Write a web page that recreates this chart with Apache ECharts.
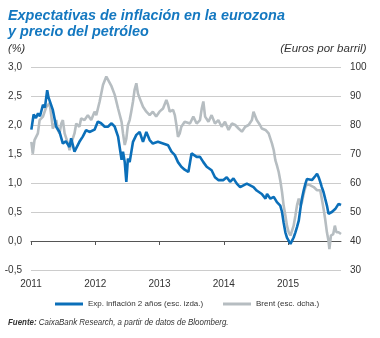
<!DOCTYPE html>
<html><head><meta charset="utf-8">
<script src="https://cdn.jsdelivr.net/npm/echarts@6/dist/echarts.min.js"></script>
<style>html,body{margin:0;padding:0;background:#fff}#c{width:380px;height:338px}</style>
</head><body><div id="c"></div>
<script>
const inflDates = ['2011-01-03','2011-01-16','2011-01-29','2011-02-10','2011-02-21','2011-03-10','2011-03-21','2011-04-03','2011-04-10','2011-04-18','2011-05-05','2011-05-24','2011-06-12','2011-07-01','2011-07-18','2011-08-08','2011-08-17','2011-09-05','2011-09-15','2011-10-03','2011-10-22','2011-11-10','2011-11-29','2011-12-28',
'2012-01-16','2012-02-03','2012-02-24','2012-03-13','2012-04-03','2012-04-21','2012-05-10','2012-05-20','2012-05-30','2012-06-07','2012-06-17','2012-06-26','2012-07-05','2012-07-15','2012-08-03','2012-08-22','2012-09-10','2012-09-29','2012-10-18','2012-11-06','2012-11-24','2012-12-23',
'2013-01-21','2013-02-19','2013-03-10','2013-03-29','2013-04-16','2013-05-05','2013-05-24','2013-06-14','2013-06-21','2013-07-02','2013-07-12','2013-07-31','2013-08-19','2013-09-07','2013-09-26','2013-10-24','2013-11-12','2013-12-01','2013-12-30',
'2014-01-18','2014-02-06','2014-02-25','2014-03-16','2014-04-04','2014-04-23','2014-05-12','2014-05-31','2014-06-19','2014-07-07','2014-08-05','2014-08-26','2014-09-04','2014-09-23','2014-10-12','2014-10-30','2014-11-18','2014-11-28','2014-12-07','2014-12-17','2014-12-26',
'2015-01-05','2015-01-15','2015-01-24','2015-02-02','2015-02-12','2015-02-21','2015-03-03','2015-03-12','2015-03-21','2015-03-31','2015-04-10','2015-04-19','2015-04-28','2015-05-17','2015-06-05','2015-06-15','2015-06-24','2015-07-03','2015-07-12','2015-07-22','2015-07-31','2015-08-10','2015-08-19','2015-08-29','2015-09-07','2015-09-26','2015-10-15','2015-10-29'];
const inflValues = [1.92,2.18,2.12,2.20,2.15,2.35,2.30,2.60,2.48,2.45,2.26,1.97,1.88,1.68,1.72,1.62,1.77,1.54,1.51,1.71,1.80,1.91,1.88,1.92,
2.06,2.03,1.97,1.97,2.03,1.97,1.80,1.60,1.40,1.54,1.36,1.02,1.42,1.36,1.71,1.83,1.88,1.71,1.88,1.74,1.68,1.71,
1.68,1.65,1.54,1.48,1.36,1.28,1.23,1.19,1.20,1.51,1.54,1.45,1.45,1.36,1.28,1.22,1.10,1.05,1.05,
1.10,1.02,1.08,0.99,0.93,0.96,0.99,0.96,0.93,0.87,0.81,0.73,0.81,0.73,0.76,0.67,0.61,0.50,0.32,0.15,0.06,
0.09,-0.05,-0.02,0.06,0.15,0.24,0.35,0.55,0.73,0.87,0.99,1.07,1.10,1.05,1.12,1.16,1.10,1.02,0.93,0.84,0.73,0.61,0.47,0.45,0.50,0.55,0.64,0.62];

const brentDates = ['2011-01-03','2011-01-11','2011-01-21','2011-02-09','2011-02-19','2011-03-10','2011-03-29','2011-04-17','2011-04-27','2011-05-05','2011-05-15','2011-05-24','2011-06-03','2011-06-12','2011-06-22','2011-07-01','2011-07-11','2011-07-30','2011-08-08','2011-08-17','2011-09-05','2011-09-15','2011-10-03','2011-10-13','2011-11-01','2011-11-20','2011-12-09','2011-12-28',
'2012-01-07','2012-01-26','2012-02-14','2012-03-04','2012-03-15','2012-04-03','2012-04-21','2012-05-10','2012-05-30','2012-06-07','2012-06-17','2012-06-26','2012-07-05','2012-07-15','2012-07-24','2012-08-03','2012-08-12','2012-08-22','2012-08-31','2012-09-10','2012-09-29','2012-10-18','2012-11-06','2012-11-24','2012-12-13',
'2013-01-01','2013-01-21','2013-02-09','2013-02-19','2013-02-28','2013-03-19','2013-03-29','2013-04-07','2013-04-16','2013-04-26','2013-05-05','2013-05-24','2013-06-04','2013-06-23','2013-07-12','2013-07-31','2013-08-19','2013-08-29','2013-09-07','2013-09-17','2013-10-06','2013-10-24','2013-11-12','2013-12-01','2013-12-20',
'2014-01-08','2014-01-28','2014-02-16','2014-03-07','2014-03-26','2014-04-14','2014-05-03','2014-05-22','2014-06-10','2014-06-19','2014-07-07','2014-07-26','2014-08-05','2014-08-26','2014-09-13','2014-10-02','2014-10-12','2014-10-21','2014-10-30','2014-11-09','2014-11-18','2014-11-28','2014-12-07','2014-12-17','2014-12-26',
'2015-01-05','2015-01-15','2015-01-24','2015-02-02','2015-02-12','2015-02-21','2015-03-03','2015-03-12','2015-03-21','2015-03-31','2015-04-10','2015-04-19','2015-05-08','2015-05-27','2015-06-15','2015-07-03','2015-07-12','2015-07-22','2015-07-31','2015-08-10','2015-08-19','2015-08-24','2015-09-02','2015-09-15','2015-09-24','2015-10-03','2015-10-15','2015-10-29'];
const brentValues = [74.2,70.1,74.8,77.1,81.7,82.9,86.3,87.5,82.9,78.8,80.0,81.7,78.3,77.1,80.5,81.7,77.1,73.6,71.3,73.6,77.1,80.5,79.4,82.3,81.7,83.4,81.7,84.6,
83.4,88.1,93.8,96.7,96.8,93.3,90.4,85.7,81.1,77.1,73.1,75.3,80.0,81.7,84.6,88.1,92.1,94.4,90.9,89.2,86.3,84.6,83.4,84.6,82.9,
84.6,85.7,88.6,86.9,84.6,85.2,83.4,80.0,75.9,77.1,79.4,81.1,81.7,80.5,82.9,80.5,81.7,85.7,88.1,82.9,81.1,83.4,80.5,81.7,79.4,
81.1,78.3,80.5,80.0,78.8,77.7,79.4,80.0,81.7,84.6,81.7,80.0,78.8,78.3,77.1,73.6,71.3,67.9,66.1,63.8,60.9,56.9,52.3,48.8,45.3,
43.0,41.9,43.6,45.3,48.8,52.3,54.6,52.3,53.4,56.3,58.6,59.7,59.2,58.6,57.5,57.5,54.6,51.1,47.6,43.0,40.1,37.2,41.9,42.4,45.3,43.0,43.0,42.4];

const yearLabels = [2011, 2012, 2013, 2014, 2015];
const xStart = '2011-01-01';
const xEnd = '2015-10-29';

function decYear(s) {
  const p = s.split('-').map(Number);
  const t = Date.UTC(p[0], p[1] - 1, p[2]), a = Date.UTC(p[0], 0, 1), b = Date.UTC(p[0] + 1, 0, 1);
  return p[0] + (t - a) / (b - a);
}

const FONT = '"Liberation Sans", Arial, sans-serif';
const BLUE = '#0b6fb9';
const TITLE = '#1478c0';
const GRAY = '#b6bdc1';
const TXT = '#333333';

const chart = echarts.init(document.getElementById('c'), null, {renderer: 'canvas'});
chart.setOption({
  animation: false,
  backgroundColor: '#fff',
  textStyle: {fontFamily: FONT},
  grid: {left: 31, right: 39, top: 67, bottom: 68},
  xAxis: [{
    type: 'value', min: decYear(xStart), max: decYear(xEnd), position: 'bottom',
    axisLine: {show: false, onZero: false}, axisTick: {show: false}, splitLine: {show: false},
    axisLabel: {customValues: yearLabels, formatter: v => String(Math.round(v)), color: TXT, fontSize: 10, fontFamily: FONT, margin: 9}
  }, {
    type: 'value', min: decYear(xStart), max: decYear(xEnd), position: 'top',
    axisLine: {show: true, onZero: true, onZeroAxisIndex: 0, lineStyle: {color: '#555', width: 1}},
    axisTick: {show: true, inside: true, length: 4, customValues: yearLabels, lineStyle: {color: '#555'}},
    axisLabel: {show: false}, splitLine: {show: false}
  }],
  yAxis: [{
    type: 'value', min: -0.5, max: 3, interval: 0.5, position: 'left',
    axisLine: {show: false}, axisTick: {show: false},
    splitLine: {show: true, lineStyle: {color: '#cccccc', width: 1}},
    axisLabel: {formatter: v => v.toFixed(1).replace('.', ','), color: TXT, fontSize: 10, fontFamily: FONT, margin: 9}
  }, {
    type: 'value', min: 30, max: 100, interval: 10, position: 'right',
    axisLine: {show: false}, axisTick: {show: false}, splitLine: {show: false},
    axisLabel: {color: TXT, fontSize: 10, fontFamily: FONT, margin: 9}
  }],
  legend: [{
    left: 50, top: 295, icon: 'rect', itemWidth: 28, itemHeight: 3, itemGap: 0,
    data: ['Exp. inflación 2 años (esc. izda.)'],
    textStyle: {color: TXT, fontSize: 8, fontFamily: FONT}
  }, {
    left: 218, top: 295, icon: 'rect', itemWidth: 28, itemHeight: 3, itemGap: 0,
    data: ['Brent (esc. dcha.)'],
    textStyle: {color: TXT, fontSize: 8, fontFamily: FONT}
  }],
  graphic: [
    {type: 'text', x: 8, y: 8.5, scaleX: 0.96, style: {text: 'Expectativas de inflación en la eurozona\ny precio del petróleo', fill: TITLE, font: 'italic bold 15px ' + FONT, lineHeight: 15.5, verticalAlign: 'top'}},
    {type: 'text', x: 8, y: 49, style: {text: '(%)', fill: TXT, font: 'italic 11px ' + FONT, verticalAlign: 'middle'}},
    {type: 'text', x: 366.5, y: 49, style: {text: '(Euros por barril)', fill: TXT, font: 'italic 11.5px ' + FONT, align: 'right', verticalAlign: 'middle'}},
    {type: 'text', x: 8, y: 322.5, scaleX: 0.88, style: {
      text: '{b|Fuente:}{i| CaixaBank Research, a partir de datos de Bloomberg.}',
      verticalAlign: 'middle',
      rich: {b: {fontWeight: 'bold', fontStyle: 'italic', fontSize: 9, fontFamily: FONT, fill: TXT},
             i: {fontStyle: 'italic', fontSize: 9, fontFamily: FONT, fill: TXT}}
    }}
  ],
  series: [{
    name: 'Brent (esc. dcha.)', type: 'line', xAxisIndex: 0, yAxisIndex: 1, showSymbol: false,
    color: GRAY, lineStyle: {color: GRAY, width: 2.6},
    data: brentDates.map((d, i) => [decYear(d), brentValues[i]])
  }, {
    name: 'Exp. inflación 2 años (esc. izda.)', type: 'line', xAxisIndex: 0, yAxisIndex: 0, showSymbol: false,
    color: BLUE, lineStyle: {color: BLUE, width: 2.6},
    data: inflDates.map((d, i) => [decYear(d), inflValues[i]])
  }]
});
</script></body></html>
